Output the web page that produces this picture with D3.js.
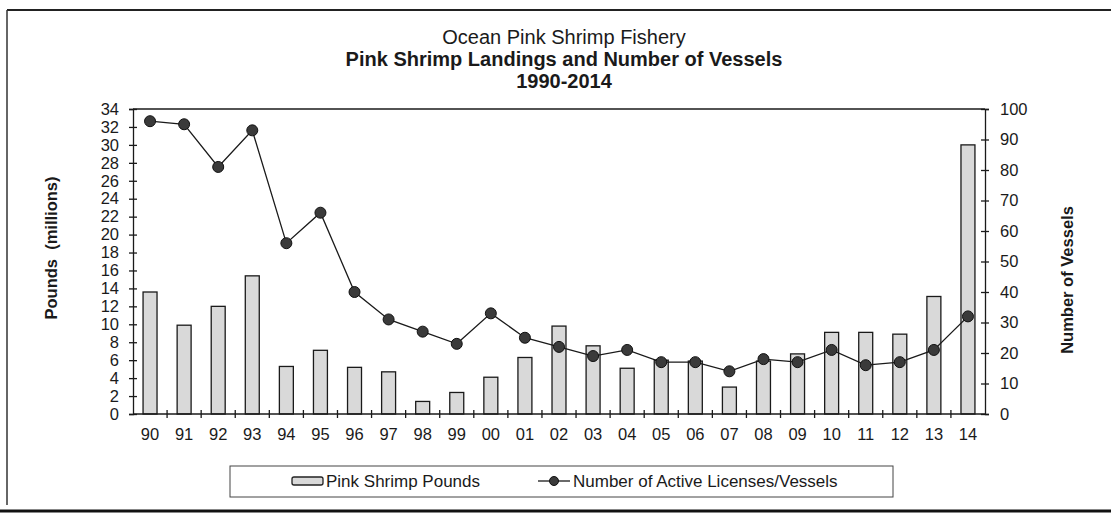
<!DOCTYPE html>
<html lang="en">
<head>
<meta charset="utf-8">
<title>Pink Shrimp Landings and Number of Vessels</title>
<script src="https://cdn.jsdelivr.net/npm/d3@7"></script>
<style>
  body { margin: 0; background: #fff; }
  svg text { font-family: "Liberation Sans", Arial, sans-serif; fill: #1a1a1a; }
  .axis path, .axis line { stroke: #1a1a1a; stroke-width: 1.3; }
</style>
</head>
<body>
<script>
// data
var years = ["90","91","92","93","94","95","96","97","98","99","00","01","02","03","04","05","06","07","08","09","10","11","12","13","14"];
var pounds = [13.6, 9.9, 12.0, 15.4, 5.3, 7.1, 5.2, 4.7, 1.4, 2.4, 4.1, 6.3, 9.8, 7.6, 5.1, 6.0, 5.9, 3.0, 5.9, 6.7, 9.1, 9.1, 8.9, 13.1, 30.0];
var vessels = [96, 95, 81, 93, 56, 66, 40, 31, 27, 23, 33, 25, 22, 19, 21, 17, 17, 14, 18, 17, 21, 16, 17, 21, 32];
var leftTicks = d3.range(0, 35, 2);
var rightTicks = d3.range(0, 101, 10);

var W = 1111, H = 516;
var plot = {left: 133, right: 985, top: 109, bottom: 414};

var svg = d3.select("body").append("svg")
    .attr("width", W).attr("height", H);

// page frame from the scan
svg.append("line").attr("x1", 7).attr("x2", W).attr("y1", 10).attr("y2", 10)
    .attr("stroke", "#222").attr("stroke-width", 2);
svg.append("line").attr("x1", 7).attr("x2", 7).attr("y1", 10).attr("y2", 505)
    .attr("stroke", "#333").attr("stroke-width", 1.5);
svg.append("line").attr("x1", 0).attr("x2", W).attr("y1", 511).attr("y2", 511)
    .attr("stroke", "#111").attr("stroke-width", 3);

// titles
var tx = 564;
svg.append("text").attr("x", tx).attr("y", 44).attr("text-anchor", "middle")
    .style("font-size", "20px").text("Ocean Pink Shrimp Fishery");
svg.append("text").attr("x", tx).attr("y", 66).attr("text-anchor", "middle")
    .style("font-size", "20px").style("font-weight", "bold")
    .text("Pink Shrimp Landings and Number of Vessels");
svg.append("text").attr("x", tx).attr("y", 88).attr("text-anchor", "middle")
    .style("font-size", "20px").style("font-weight", "bold").text("1990-2014");

// scales
var x = d3.scaleBand().domain(years)
    .range([plot.left, plot.right])
    .paddingInner(0.59).paddingOuter(0.295);
var yL = d3.scaleLinear().domain([0, 34]).range([plot.bottom, plot.top]);
var yR = d3.scaleLinear().domain([0, 100]).range([plot.bottom, plot.top]);

// plot frame top
svg.append("line").attr("x1", plot.left).attr("x2", plot.right)
    .attr("y1", plot.top).attr("y2", plot.top)
    .attr("stroke", "#1a1a1a").attr("stroke-width", 1.3);

// bars
svg.selectAll("rect.bar").data(years).enter().append("rect")
    .attr("class", "bar")
    .attr("x", function(d) { return x(d); })
    .attr("width", x.bandwidth())
    .attr("y", function(d, i) { return yL(pounds[i]); })
    .attr("height", function(d, i) { return plot.bottom - yL(pounds[i]); })
    .attr("fill", "#d9d9d9").attr("stroke", "#1a1a1a").attr("stroke-width", 1.3);

// left axis
var gL = svg.append("g").attr("class", "axis")
    .attr("transform", "translate(" + plot.left + ",0)")
    .call(d3.axisLeft(yL).tickValues(leftTicks).tickSizeOuter(0).tickSize(4).tickPadding(10));
gL.selectAll(".tick line").attr("x1", 4).attr("x2", -4);
gL.selectAll("text").style("font-size", "16.5px");

// right axis
var gR = svg.append("g").attr("class", "axis")
    .attr("transform", "translate(" + plot.right + ",0)")
    .call(d3.axisRight(yR).tickValues(rightTicks).tickSizeOuter(0).tickSize(4).tickPadding(11));
gR.selectAll(".tick line").attr("x1", -4).attr("x2", 4);
gR.selectAll("text").style("font-size", "16.5px");

// x axis: labels under each year, ticks between years
var gX = svg.append("g").attr("class", "axis")
    .attr("transform", "translate(0," + plot.bottom + ")")
    .call(d3.axisBottom(x).tickSize(0).tickPadding(14));
gX.select(".domain").attr("d", "M" + plot.left + ",0H" + plot.right);
gX.selectAll("text").style("font-size", "16.5px");
var step = x.step();
var bounds = years.slice(1).map(function(d) { return x(d) + x.bandwidth() / 2 - step / 2; });
gX.selectAll("line.sep").data(bounds).enter().append("line")
    .attr("class", "sep")
    .attr("x1", function(d) { return d; }).attr("x2", function(d) { return d; })
    .attr("y1", -4).attr("y2", 4);

// vessels line
var line = d3.line()
    .x(function(d, i) { return x(years[i]) + x.bandwidth() / 2; })
    .y(function(d) { return yR(d); });
svg.append("path").datum(vessels)
    .attr("d", line).attr("fill", "none")
    .attr("stroke", "#1a1a1a").attr("stroke-width", 1.3);
svg.selectAll("circle.pt").data(vessels).enter().append("circle")
    .attr("class", "pt")
    .attr("cx", function(d, i) { return x(years[i]) + x.bandwidth() / 2; })
    .attr("cy", function(d) { return yR(d); })
    .attr("r", 5.5)
    .attr("fill", "#3a3a3a").attr("stroke", "#111").attr("stroke-width", 1);

// axis titles
svg.append("text")
    .attr("transform", "translate(57,248) rotate(-90)")
    .attr("text-anchor", "middle")
    .style("font-size", "16.5px").style("font-weight", "bold")
    .style("white-space", "pre")
    .text("Pounds  (millions)");
svg.append("text")
    .attr("transform", "translate(1073,280) rotate(-90)")
    .attr("text-anchor", "middle")
    .style("font-size", "16.5px").style("font-weight", "bold")
    .text("Number of Vessels");

// legend
var lg = svg.append("g");
lg.append("rect").attr("x", 230).attr("y", 466).attr("width", 663).attr("height", 31)
    .attr("fill", "#fff").attr("stroke", "#444").attr("stroke-width", 1);
lg.append("rect").attr("x", 292).attr("y", 477).attr("width", 31).attr("height", 8)
    .attr("rx", 2).attr("fill", "#d9d9d9").attr("stroke", "#222").attr("stroke-width", 1.3);
lg.append("text").attr("x", 326).attr("y", 487).style("font-size", "17px")
    .text("Pink Shrimp Pounds");
lg.append("line").attr("x1", 538).attr("x2", 570).attr("y1", 481).attr("y2", 481)
    .attr("stroke", "#1a1a1a").attr("stroke-width", 1.3);
lg.append("circle").attr("cx", 554).attr("cy", 481).attr("r", 4.5)
    .attr("fill", "#3a3a3a").attr("stroke", "#111");
lg.append("text").attr("x", 573).attr("y", 487).style("font-size", "17px")
    .text("Number of Active Licenses/Vessels");
</script>
</body>
</html>
